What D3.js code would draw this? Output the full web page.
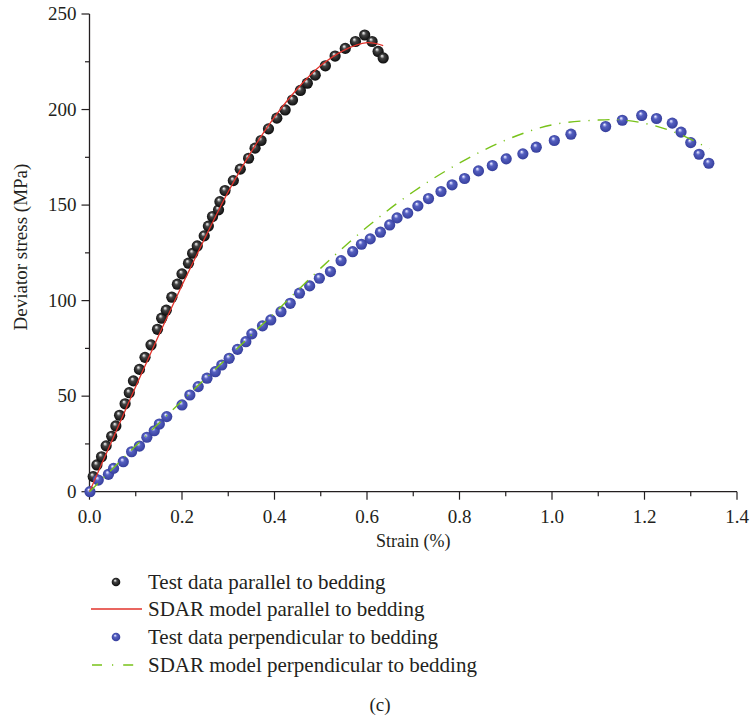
<!DOCTYPE html>
<html><head><meta charset="utf-8">
<script src="https://cdn.jsdelivr.net/npm/d3@7"></script>
<style>body{margin:0;background:#fff}svg{display:block}text{font-family:"Liberation Serif","Times New Roman",serif;fill:#231f20}</style>
</head><body>
<svg id="c" width="751" height="721"></svg>
<script>
// Test data parallel to bedding: strain (%) and stress (MPa)
const parStrain = [0.008,0.016,0.026,0.036,0.048,0.057,0.065,0.077,0.086,0.095,0.108,0.120,0.133,0.147,0.156,0.166,0.178,0.190,0.200,0.214,0.223,0.233,0.248,0.257,0.266,0.279,0.282,0.293,0.311,0.326,0.344,0.358,0.371,0.387,0.405,0.423,0.439,0.456,0.471,0.488,0.510,0.531,0.553,0.575,0.595,0.611,0.624,0.635];
const parStress = [7.9,14,18.3,24,29,34.4,40,46,51.8,58,64,70.3,76.8,85,90.8,95,101.8,108.6,114,119.6,124.8,128.6,133.9,139,144,147.5,151.8,157.6,162.8,168.8,174.5,179.8,183.8,189.9,195.5,199.8,205,210,213.8,218,222.9,228,232,235.6,239,235.6,230.4,227];
// SDAR model parallel to bedding
const parModelStrain = [0,0.05,0.1,0.15,0.2,0.25,0.3,0.35,0.4,0.45,0.5,0.55,0.6,0.635];
const parModelStress = [0,27.5,55,82,108,133,157,178,196,211,223,231,235,233.5];
// Test data perpendicular to bedding
const perStrain = [0.001,0.019,0.041,0.052,0.073,0.091,0.108,0.124,0.140,0.151,0.167,0.200,0.217,0.235,0.254,0.272,0.286,0.302,0.320,0.338,0.351,0.374,0.392,0.414,0.434,0.454,0.476,0.497,0.521,0.544,0.569,0.588,0.607,0.629,0.649,0.665,0.688,0.710,0.733,0.760,0.784,0.811,0.841,0.871,0.901,0.937,0.966,1.005,1.041,1.116,1.152,1.194,1.226,1.260,1.279,1.300,1.318,1.339];
const perStress = [0,6.1,9.1,12.2,15.7,20.9,23.9,28.5,31.9,35.4,39.3,45.4,50.6,55,59.4,62.8,66.3,69.8,74.5,78.5,82.6,86.8,89.9,94.2,98.6,103.9,107.7,111.7,115.2,120.9,125.6,129.5,132.3,135.8,139.6,143.3,145.8,149.6,153.4,157.1,160.6,163.9,167.9,170.7,174.2,176.8,180.3,183.8,187.1,191.1,194.4,196.9,195.3,192.9,188.2,182.7,176.6,171.9];
// SDAR model perpendicular to bedding
const perModelStrain = [0,0.1,0.2,0.3,0.4,0.5,0.6,0.7,0.8,0.9,1.0,1.1,1.15,1.2,1.25,1.3,1.34];
const perModelStress = [0,24,47.5,70.5,93.5,117,138.5,157,172,184,192,194.5,194.6,192.8,189.5,184.5,179.5];

const xTicks = [0,0.2,0.4,0.6,0.8,1.0,1.2,1.4];
const yTicks = [0,50,100,150,200,250];
const legendLabels = ["Test data parallel to bedding","SDAR model parallel to bedding","Test data perpendicular to bedding","SDAR model perpendicular to bedding"];

const svg = d3.select("#c");
const x = d3.scaleLinear().domain([0,1.4]).range([89.5,737]);
const y = d3.scaleLinear().domain([0,250]).range([491.7,14]);

const defs = svg.append("defs");
function sphere(id, stops){
  const g = defs.append("radialGradient").attr("id",id).attr("cx","50%").attr("cy","50%").attr("r","55%").attr("fx","38%").attr("fy","30%");
  stops.forEach(s=>g.append("stop").attr("offset",s[0]).attr("stop-color",s[1]));
}
sphere("gBlack",[["0%","#ffffff"],["14%","#bbbbbb"],["35%","#444444"],["100%","#050505"]]);
sphere("gBlue",[["0%","#ffffff"],["14%","#b8bcf0"],["35%","#5560c0"],["100%","#323a98"]]);

// axes
const xAxis = svg.append("g").attr("transform",`translate(0,${y(0)})`);
xAxis.append("line").attr("x1",x(0)).attr("x2",x(1.4)).attr("stroke","#231f20").attr("stroke-width",1.3);
xAxis.selectAll(".mn").data(d3.range(0.1,1.4,0.2)).enter().append("line")
  .attr("x1",d=>x(d)).attr("x2",d=>x(d)).attr("y1",0).attr("y2",4.5).attr("stroke","#231f20").attr("stroke-width",1.2);
xAxis.selectAll(".mj").data(xTicks).enter().append("line")
  .attr("x1",d=>x(d)).attr("x2",d=>x(d)).attr("y1",0).attr("y2",8).attr("stroke","#231f20").attr("stroke-width",1.2);
xAxis.selectAll(".tl").data(xTicks).enter().append("text")
  .attr("x",d=>x(d)).attr("y",31).attr("text-anchor","middle").attr("font-size",19).text(d=>d.toFixed(1));

const yAxis = svg.append("g").attr("transform",`translate(${x(0)},0)`);
yAxis.append("line").attr("y1",y(0)).attr("y2",y(250)).attr("stroke","#231f20").attr("stroke-width",1.3);
yAxis.selectAll(".mn").data(d3.range(25,250,50)).enter().append("line")
  .attr("y1",d=>y(d)).attr("y2",d=>y(d)).attr("x1",0).attr("x2",-4.5).attr("stroke","#231f20").attr("stroke-width",1.2);
yAxis.selectAll(".mj").data(yTicks).enter().append("line")
  .attr("y1",d=>y(d)).attr("y2",d=>y(d)).attr("x1",0).attr("x2",-8).attr("stroke","#231f20").attr("stroke-width",1.2);
yAxis.selectAll(".tl").data(yTicks).enter().append("text")
  .attr("x",-13).attr("y",d=>y(d)).attr("dy","0.33em").attr("text-anchor","end").attr("font-size",19).text(d=>d);

svg.append("text").attr("x",(x(0)+x(1.4))/2).attr("y",547).attr("text-anchor","middle").attr("font-size",18).text("Strain (%)");
svg.append("text").attr("transform","translate(27,247) rotate(-90)").attr("text-anchor","middle").attr("font-size",19).text("Deviator stress (MPa)");

// points
const par = parStrain.map((d,i)=>[d,parStress[i]]);
const per = perStrain.map((d,i)=>[d,perStress[i]]);
svg.append("g").selectAll("circle").data(par).enter().append("circle")
  .attr("cx",d=>x(d[0])).attr("cy",d=>y(d[1])).attr("r",5.6).attr("fill","url(#gBlack)");
svg.append("g").selectAll("circle").data(per).enter().append("circle")
  .attr("cx",d=>x(d[0])).attr("cy",d=>y(d[1])).attr("r",5.6).attr("fill","url(#gBlue)");

// model lines
const line = d3.line().x(d=>x(d[0])).y(d=>y(d[1])).curve(d3.curveCatmullRom);
svg.append("path").datum(parModelStrain.map((d,i)=>[d,parModelStress[i]]))
  .attr("d",line).attr("fill","none").attr("stroke","#e2332b").attr("stroke-width",1.3);
svg.append("path").datum(perModelStrain.map((d,i)=>[d,perModelStress[i]]))
  .attr("d",line).attr("fill","none").attr("stroke","#78c21a").attr("stroke-width",1.4).attr("stroke-dasharray","12,8,1.2,8");

// legend
const ly = [582,609,637,665];
const lg = svg.append("g");
lg.append("circle").attr("cx",116).attr("cy",ly[0]).attr("r",4.3).attr("fill","url(#gBlack)");
lg.append("line").attr("x1",91).attr("x2",142).attr("y1",ly[1]).attr("y2",ly[1]).attr("stroke","#e2332b").attr("stroke-width",1.3);
lg.append("circle").attr("cx",116).attr("cy",ly[2]).attr("r",4.3).attr("fill","url(#gBlue)");
lg.append("line").attr("x1",92).attr("x2",136).attr("y1",ly[3]).attr("y2",ly[3]).attr("stroke","#78c21a").attr("stroke-width",1.4).attr("stroke-dasharray","10,10,1.2,10");
lg.selectAll("text").data(legendLabels).enter().append("text")
  .attr("x",148).attr("y",(d,i)=>ly[i]).attr("dy","0.33em").attr("font-size",21).text(d=>d);
svg.append("text").attr("x",380).attr("y",711).attr("text-anchor","middle").attr("font-size",19).text("(c)");
</script>
</body></html>
